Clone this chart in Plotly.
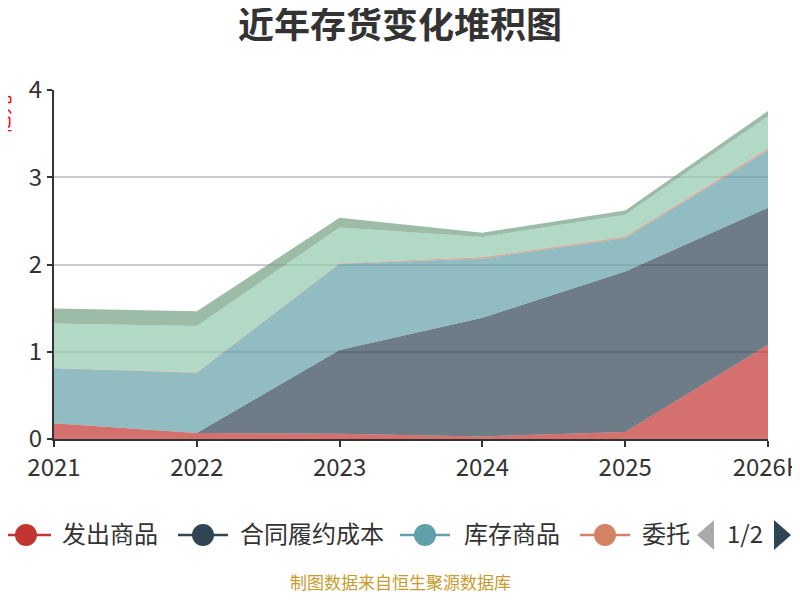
import plotly.graph_objects as go

# 年份
years = ['2021', '2022', '2023', '2024', '2025', '2026H']

# 各项存货（亿元）
fachu = [0.18, 0.07, 0.06, 0.03, 0.08, 1.08]          # 发出商品
hetong = [0.00, 0.00, 0.96, 1.36, 1.84, 1.57]         # 合同履约成本
kucun = [0.63, 0.69, 0.99, 0.68, 0.385, 0.66]         # 库存商品
weituo = [0.005, 0.005, 0.005, 0.015, 0.015, 0.02]    # 委托加工物资
yuancailiao = [0.51, 0.53, 0.41, 0.23, 0.25, 0.37]    # 原材料
zaichanpin = [0.17, 0.17, 0.11, 0.05, 0.05, 0.06]     # 在产品

names = ['发出商品', '合同履约成本', '库存商品', '委托加工物资', '原材料', '在产品']
colors = ['#c23531', '#2f4554', '#61a0a8', '#d48265', '#91c7ae', '#749f83']
series = [fachu, hetong, kucun, weituo, yuancailiao, zaichanpin]

# legend page 1 shows only 4 items, last one cut off
legend_labels = ['发出商品', '合同履约成本', '库存商品', '委托']

FONT = 'Noto Sans CJK SC'
OFF = 8  # page body margin; keep the figure inside the window so no scrollbars
W, H = 800 - 2 * OFF, 600 - 2 * OFF
ML, MT = 54 - OFF, 90 - OFF
MR = (800 - OFF) - 768
MB = (600 - OFF) - 439
PW, PH = W - ML - MR, H - MT - MB


# helpers: page pixel -> paper coords
def px_x(p):
    return (p - OFF - ML) / PW


def px_y(p):
    return (H - MB - (p - OFF)) / PH


def rgba(hex_color, a):
    h = hex_color.lstrip('#')
    r, g, b = int(h[0:2], 16), int(h[2:4], 16), int(h[4:6], 16)
    return 'rgba(%d,%d,%d,%s)' % (r, g, b, a)


fig = go.Figure()

for name, vals, col in zip(names, series, colors):
    fig.add_trace(go.Scatter(
        x=years, y=vals, name=name,
        mode='lines',
        stackgroup='one',
        line=dict(width=0, color=col),
        fillcolor=rgba(col, 0.7),
        showlegend=False,
    ))

# hand drawn legend (echarts scroll legend, page 1/2)
shapes = []
annotations = []
leg_y = px_y(535)
txt_y = px_y(532)
sym_centers = [26, 203, 425, 605]
text_starts = [60, 238, 462, 640]
for lab, col, cx, tx in zip(legend_labels, colors, sym_centers, text_starts):
    shapes.append(dict(type='line', xref='paper', yref='paper',
                       x0=px_x(cx - 25), x1=px_x(cx + 25), y0=leg_y, y1=leg_y,
                       line=dict(color=col, width=2.5)))
    shapes.append(dict(type='circle', xref='paper', yref='paper',
                       xsizemode='pixel', ysizemode='pixel',
                       xanchor=px_x(cx), yanchor=leg_y,
                       x0=-11, x1=11, y0=-11, y1=11,
                       fillcolor=col, line=dict(width=0)))
    annotations.append(dict(text=lab, xref='paper', yref='paper',
                            x=px_x(tx), y=txt_y, xanchor='left', yanchor='middle',
                            showarrow=False, font=dict(family=FONT, size=24, color='#333')))

# pager arrows (pulled in a little so the right one stays on the canvas)
shapes.append(dict(type='path', xref='paper', yref='paper',
                   path='M %f %f L %f %f L %f %f Z' % (
                       px_x(714), px_y(520), px_x(714), px_y(550), px_x(697), px_y(535)),
                   fillcolor='#aaaaaa', line=dict(width=0)))
shapes.append(dict(type='path', xref='paper', yref='paper',
                   path='M %f %f L %f %f L %f %f Z' % (
                       px_x(774), px_y(520), px_x(774), px_y(550), px_x(791), px_y(535)),
                   fillcolor='#2f4554', line=dict(width=0)))
annotations.append(dict(text='1/2', xref='paper', yref='paper',
                        x=px_x(745), y=txt_y, xanchor='center', yanchor='middle',
                        showarrow=False, font=dict(family=FONT, size=24, color='#333')))

# y axis name, mostly off canvas in the original
annotations.append(dict(text='亿元', xref='paper', yref='paper',
                        x=px_x(2), y=px_y(115), xanchor='center', yanchor='middle',
                        textangle=-90, showarrow=False,
                        font=dict(family=FONT, size=20, color='red')))

# source
annotations.append(dict(text='制图数据来自恒生聚源数据库', xref='paper', yref='paper',
                        x=px_x(400), y=px_y(581), xanchor='center', yanchor='middle',
                        showarrow=False, font=dict(family=FONT, size=17, color='#c89b2c')))

fig.update_layout(
    width=W, height=H,
    margin=dict(l=ML, r=MR, t=MT, b=MB),
    paper_bgcolor='white', plot_bgcolor='white',
    title=dict(text='<b>近年存货变化堆积图</b>', xref='container',
               x=(400 - OFF) / W, xanchor='center',
               y=1 - (25 - OFF) / H, yanchor='middle', yref='container',
               font=dict(family=FONT, size=36, color='#333')),
    showlegend=False,
    font=dict(family=FONT, color='#333'),
    shapes=shapes,
    annotations=annotations,
    xaxis=dict(type='category', range=[0, len(years) - 1], automargin=False,
               showgrid=False, showline=True, linecolor='#333', linewidth=2,
               ticks='outside', ticklen=6, tickwidth=2, tickcolor='#333',
               tickfont=dict(family=FONT, size=24, color='#333')),
    yaxis=dict(range=[0, 4], dtick=1, automargin=False,
               showgrid=True, gridcolor='#cccccc', gridwidth=1.5,
               zeroline=False, showline=True, linecolor='#333', linewidth=2,
               ticks='outside', ticklen=5, tickwidth=2, tickcolor='#333',
               tickfont=dict(family=FONT, size=24, color='#333')),
)

fig.write_html('out.html')
